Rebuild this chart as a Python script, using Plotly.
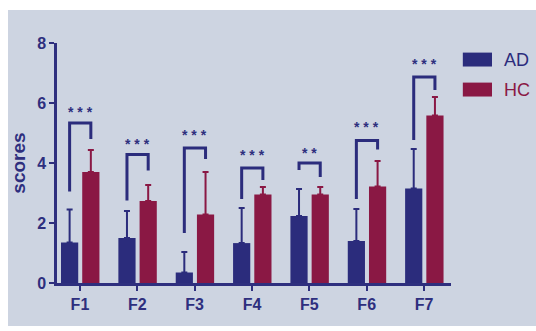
import plotly.graph_objects as go

# ---- data ----
categories = ["F1", "F2", "F3", "F4", "F5", "F6", "F7"]
ad_mean = [1.35, 1.50, 0.35, 1.33, 2.23, 1.40, 3.15]
ad_upper = [2.45, 2.40, 1.03, 2.50, 3.13, 2.47, 4.47]
hc_mean = [3.70, 2.73, 2.28, 2.95, 2.95, 3.22, 5.58]
hc_upper = [4.43, 3.27, 3.70, 3.20, 3.20, 4.07, 6.20]

# significance brackets: top bar, left-leg bottom, right-leg bottom, label height
sig_top = [5.33, 4.28, 4.50, 3.83, 4.00, 4.75, 6.87]
sig_left_bottom = [3.05, 2.75, 1.67, 2.80, 3.77, 2.80, 4.77]
sig_right_bottom = [4.80, 3.75, 4.13, 3.43, 3.53, 4.45, 6.43]
sig_label_y = [5.70, 4.63, 4.95, 4.27, 4.35, 5.20, 7.30]
sig_labels = ["***", "***", "***", "***", "**", "***", "***"]

y_ticks = [0, 2, 4, 6, 8]

# ---- style ----
BLUE = "#2b2c7c"
RED = "#8a1844"
NAVY = "#2e2f7e"
PANEL = "#cdd4e1"
FONT = "Liberation Sans, Arial, sans-serif"

BAR_W = 0.30
AD_OFF = -0.33
HC_OFF = 0.04

x_idx = list(range(len(categories)))

fig = go.Figure()

fig.add_trace(go.Bar(
    x=x_idx, y=ad_mean, width=BAR_W, offset=AD_OFF,
    marker=dict(color=BLUE, line=dict(width=0)), name="AD",
    error_y=dict(type="data", symmetric=False,
                 array=[u - m for u, m in zip(ad_upper, ad_mean)],
                 arrayminus=[0] * len(ad_mean),
                 color=BLUE, thickness=2, width=3),
))
fig.add_trace(go.Bar(
    x=x_idx, y=hc_mean, width=BAR_W, offset=HC_OFF,
    marker=dict(color=RED, line=dict(width=0)), name="HC",
    error_y=dict(type="data", symmetric=False,
                 array=[u - m for u, m in zip(hc_upper, hc_mean)],
                 arrayminus=[0] * len(hc_mean),
                 color=RED, thickness=2, width=3),
))

# brackets drawn as line traces between the two bar centres of each group
ad_c = AD_OFF + BAR_W / 2
hc_c = HC_OFF + BAR_W / 2
bx, by = [], []
for i in x_idx:
    bx += [i + ad_c, i + ad_c, i + hc_c, i + hc_c, None]
    by += [sig_left_bottom[i], sig_top[i], sig_top[i], sig_right_bottom[i], None]
fig.add_trace(go.Scatter(
    x=bx, y=by, mode="lines",
    line=dict(color=BLUE, width=3), hoverinfo="skip",
))

for i in x_idx:
    fig.add_annotation(
        x=i + (ad_c + hc_c) / 2, y=sig_label_y[i], xref="x", yref="y",
        text=" ".join(sig_labels[i]), showarrow=False,
        font=dict(family=FONT, size=14, color=NAVY, weight="bold"),
        yanchor="middle",
    )

# grey panel behind the chart
fig.add_shape(type="rect", xref="paper", yref="paper",
              x0=-0.1244, x1=1.22, y0=-0.179, y1=1.1375,
              fillcolor=PANEL, line=dict(width=0), layer="below")

# legend swatches and labels
for label, color, yc in [("AD", BLUE, 0.931), ("HC", RED, 0.806)]:
    fig.add_shape(type="rect", xref="paper", yref="paper",
                  x0=1.03, x1=1.104, y0=yc - 0.029, y1=yc + 0.029,
                  fillcolor=color, line=dict(width=0))
    fig.add_annotation(x=1.13, y=yc, xref="paper", yref="paper",
                       text=label, showarrow=False, xanchor="left",
                       yanchor="middle",
                       font=dict(family=FONT, size=18, color=color))

fig.update_layout(
    width=536, height=331,
    margin=dict(l=57, r=85, t=43, b=48),
    paper_bgcolor="white", plot_bgcolor="white",
    showlegend=False,
    font=dict(family=FONT, color=NAVY),
    xaxis=dict(
        range=[-0.40, 6.47], tickmode="array", tickvals=x_idx,
        ticktext=categories, showline=True, linecolor=NAVY, linewidth=2.5,
        ticks="outside", ticklen=5, tickwidth=2, tickcolor=NAVY,
        showgrid=False, zeroline=False,
        tickfont=dict(family=FONT, size=16, color=NAVY, weight="bold"),
    ),
    yaxis=dict(
        range=[0, 8], tickmode="array", tickvals=y_ticks,
        showline=True, linecolor=NAVY, linewidth=2.5,
        ticks="outside", ticklen=5, tickwidth=2, tickcolor=NAVY,
        showgrid=False, zeroline=False,
        tickfont=dict(family=FONT, size=16, color=NAVY, weight="bold"),
        title=dict(text="scores", standoff=7,
                   font=dict(family=FONT, size=19, color=NAVY, weight="bold")),
    ),
)

fig.write_html("out.html")
